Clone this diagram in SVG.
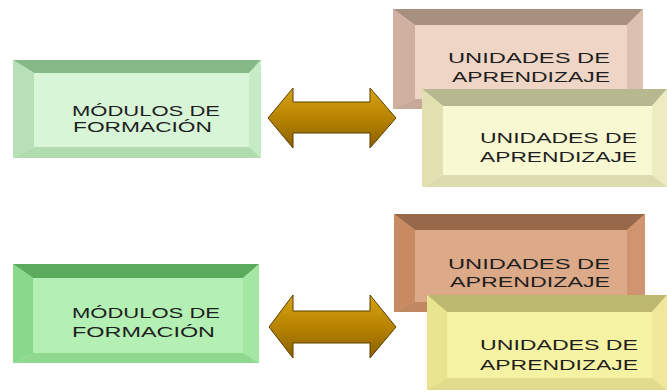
<svg xmlns="http://www.w3.org/2000/svg" width="667" height="392" viewBox="0 0 667 392">
<style>
text{font-family:"Liberation Sans",Arial,sans-serif;font-size:15px;fill:#1e1e1e;}
.arrow{fill:url(#gold);stroke:#5a3e00;stroke-width:1;stroke-linejoin:round;}
</style>
<defs>
<linearGradient id="gold" x1="0" y1="0" x2="0" y2="1">
<stop offset="0" stop-color="#d6a414"/>
<stop offset="0.5" stop-color="#b88400"/>
<stop offset="1" stop-color="#8a6000"/>
</linearGradient>
</defs>
<rect width="667" height="392" fill="#ffffff"/>

<g id="modulos1">
<rect x="13" y="60" width="248" height="98" fill="#d8f5d8"/>
<polygon points="13,60 261,60 249,73 34,73" fill="#86b888"/>
<polygon points="13,60 34,73 34,147 13,158" fill="#b8e0b8"/>
<polygon points="261,60 261,158 249,147 249,73" fill="#c6ecc6"/>
<polygon points="13,158 261,158 249,147 34,147" fill="#b0dcb0"/>
<text x="72" y="116" textLength="148" lengthAdjust="spacingAndGlyphs">MÓDULOS DE</text>
<text x="73" y="132" textLength="139" lengthAdjust="spacingAndGlyphs">FORMACIÓN</text>
</g>

<g id="modulos2">
<rect x="13" y="264" width="246" height="99" fill="#b4f0b4"/>
<polygon points="13,264 259,264 243,278 33,278" fill="#5caa5c"/>
<polygon points="13,264 33,278 33,353 13,363" fill="#8ad88a"/>
<polygon points="259,264 259,363 243,353 243,278" fill="#a2e8a2"/>
<polygon points="13,363 259,363 243,353 33,353" fill="#90d890"/>
<text x="72" y="318" textLength="148" lengthAdjust="spacingAndGlyphs">MÓDULOS DE</text>
<text x="72" y="337" textLength="143" lengthAdjust="spacingAndGlyphs">FORMACIÓN</text>
</g>

<g id="unidades1">
<rect x="393" y="9" width="250" height="100" fill="#efd5c5"/>
<polygon points="393,9 643,9 627,25 415,25" fill="#a89080"/>
<polygon points="393,9 415,25 415,99 393,109" fill="#d0b0a0"/>
<polygon points="643,9 643,109 627,99 627,25" fill="#dcc0b0"/>
<polygon points="393,109 643,109 627,99 415,99" fill="#c8a898"/>
<text x="448" y="63" textLength="162" lengthAdjust="spacingAndGlyphs">UNIDADES DE</text>
<text x="452" y="82" textLength="158" lengthAdjust="spacingAndGlyphs">APRENDIZAJE</text>
</g>

<g id="unidades2">
<rect x="422" y="89" width="245" height="98" fill="#f8f8d2"/>
<polygon points="422,89 667,89 652,106 443,106" fill="#b8b890"/>
<polygon points="422,89 443,106 443,175 422,187" fill="#e0e0b0"/>
<polygon points="667,89 667,187 652,175 652,106" fill="#ececc0"/>
<polygon points="422,187 667,187 652,175 443,175" fill="#dcdcb0"/>
<text x="480" y="143" textLength="157" lengthAdjust="spacingAndGlyphs">UNIDADES DE</text>
<text x="480" y="162" textLength="157" lengthAdjust="spacingAndGlyphs">APRENDIZAJE</text>
</g>

<g id="unidades3">
<rect x="394" y="214" width="251" height="98" fill="#dcaa88"/>
<polygon points="394,214 645,214 627,230 415,230" fill="#98684a"/>
<polygon points="394,214 415,230 415,302 394,312" fill="#c88a60"/>
<polygon points="645,214 645,312 627,302 627,230" fill="#d09470"/>
<polygon points="394,312 645,312 627,302 415,302" fill="#c08860"/>
<text x="448" y="269" textLength="162" lengthAdjust="spacingAndGlyphs">UNIDADES DE</text>
<text x="450" y="287" textLength="160" lengthAdjust="spacingAndGlyphs">APRENDIZAJE</text>
</g>

<g id="unidades4">
<rect x="427" y="295" width="240" height="95" fill="#f6f2a4"/>
<polygon points="427,295 667,295 652,312 447,312" fill="#bcb870"/>
<polygon points="427,295 447,312 447,378 427,390" fill="#e8e490"/>
<polygon points="667,295 667,390 652,378 652,312" fill="#eee898"/>
<polygon points="427,390 667,390 652,378 447,378" fill="#e0dc8c"/>
<text x="480" y="350" textLength="158" lengthAdjust="spacingAndGlyphs">UNIDADES DE</text>
<text x="480" y="370" textLength="158" lengthAdjust="spacingAndGlyphs">APRENDIZAJE</text>
</g>

<g id="connectors">
<path class="arrow" d="M268,118 L293,88 L293,102 L370,102 L370,88 L396,118 L370,148 L370,133 L293,133 L293,148 Z"/>
<path class="arrow" d="M269,327 L293,295 L293,311 L370,311 L370,295 L396,327 L370,358 L370,343 L293,343 L293,358 Z"/>
</g>
</svg>
